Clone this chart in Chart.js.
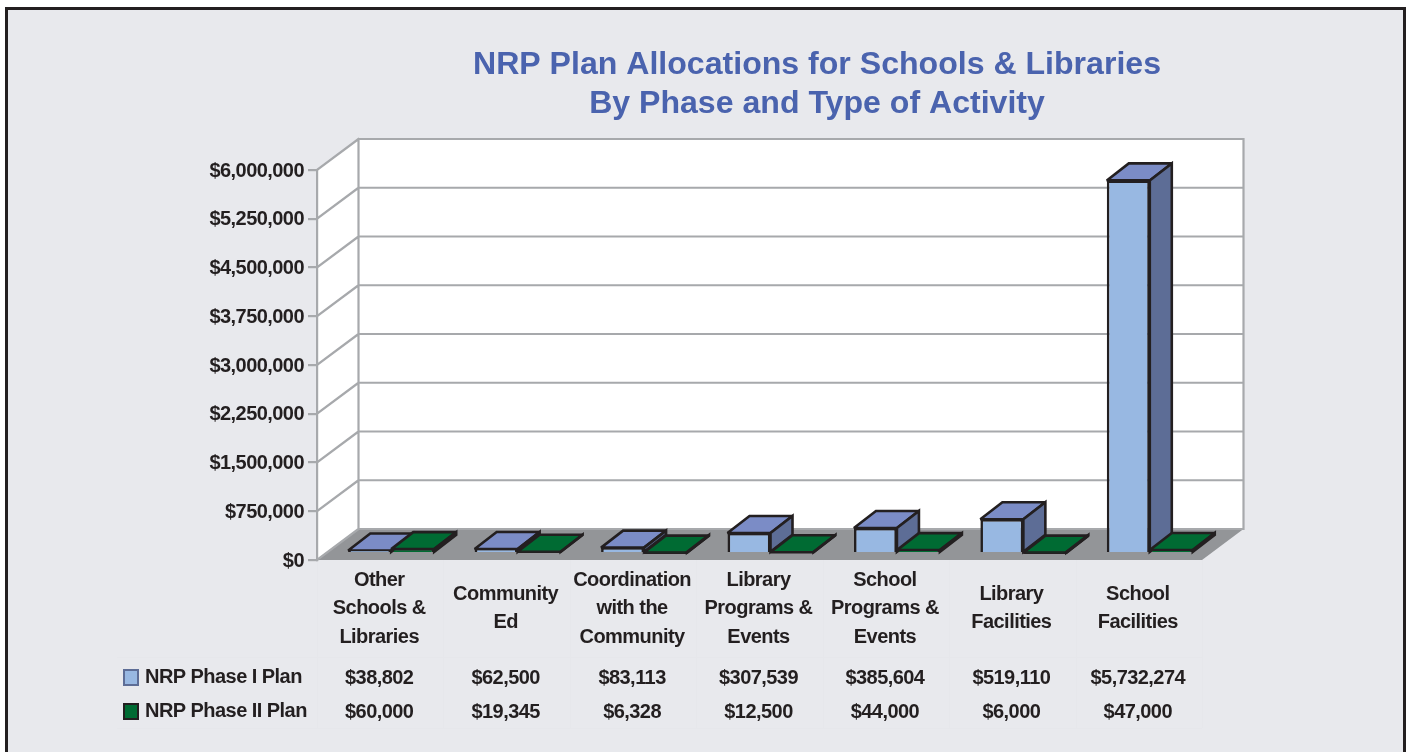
<!DOCTYPE html>
<html><head><meta charset="utf-8">
<style>html,body{margin:0;padding:0;background:#fff;overflow:hidden}canvas{display:block}</style>
<script src="https://cdn.jsdelivr.net/npm/chart.js@4/dist/chart.umd.js"></script>
</head><body><canvas id="c" width="1411" height="752"></canvas>
<script>
const categories = [["Other","Schools &","Libraries"],["Community","Ed"],["Coordination","with the","Community"],["Library","Programs &","Events"],["School","Programs &","Events"],["Library","Facilities"],["School","Facilities"]];
const phaseOne = [38802,62500,83113,307539,385604,519110,5732274];
const phaseTwo = [60000,19345,6328,12500,44000,6000,47000];
const seriesNames = ["NRP Phase I Plan","NRP Phase II Plan"];
const titleLines = ["NRP Plan Allocations for Schools & Libraries","By Phase and Type of Activity"];
const axisMax = 6000000, axisStep = 750000;

const FONT = '"Liberation Sans",Arial,sans-serif';
const TEXT_SPACING = '-0.55px';
const INK = '#231f20', GRID = '#a7a9ac', PANEL = '#e8e9ed';
const WALL = {dx:41.5, dy:-31}, BAR = {dx:22, dy:-17}, PLANE = {dx:11, dy:-7};
const EDGE = 2.6;
const FACES = [
  {front:'#98b8e2', top:'#7b8cc6', side:'#5d6d96', edge:INK},
  {front:'#006b33', top:'#006b33', side:'#231f20', edge:INK}
];
const money = v => '$' + Number(v).toLocaleString('en-US');
function poly(ctx, pts, fill, stroke, lw){
  ctx.beginPath(); pts.forEach((p,i)=> i?ctx.lineTo(p[0],p[1]):ctx.moveTo(p[0],p[1])); ctx.closePath();
  if(fill){ctx.fillStyle=fill;ctx.fill();}
  if(stroke){ctx.strokeStyle=stroke;ctx.lineWidth=lw;ctx.lineJoin='miter';ctx.miterLimit=3;ctx.stroke();}
}
function swatch(fill, edge){
  const s=document.createElement('canvas'); s.width=16; s.height=17;
  const g=s.getContext('2d'); g.fillStyle=fill; g.fillRect(0,0,16,17);
  g.strokeStyle=edge; g.lineWidth=2; g.strokeRect(1,1,14,15); return s;
}
const scenePlugin = {
  id:'scene',
  beforeDraw(chart){
    const {ctx,chartArea:a,scales:{x,y}} = chart;
    ctx.letterSpacing = TEXT_SPACING;
    ctx.save();
    ctx.fillStyle='#fff'; ctx.fillRect(0,0,1411,752);
    ctx.fillStyle=PANEL; ctx.fillRect(6,8,1399,744);
    ctx.strokeStyle=INK; ctx.lineWidth=3;
    ctx.beginPath(); ctx.moveTo(6.5,752); ctx.lineTo(6.5,8.5); ctx.lineTo(1404.5,8.5); ctx.lineTo(1404.5,752); ctx.stroke();
    ctx.strokeStyle='#e6e7eb'; ctx.lineWidth=1;
    ctx.beginPath();
    const band=(a.right-a.left)/categories.length;
    for(let i=0;i<=categories.length;i++){const px=Math.round(a.left+band*i)+.5; ctx.moveTo(px,a.bottom); ctx.lineTo(px,728);}
    ctx.moveTo(117,657.5); ctx.lineTo(a.right,657.5);
    ctx.moveTo(117,728.5); ctx.lineTo(a.right,728.5);
    ctx.stroke();
    const bx=a.left+WALL.dx, tx=a.right+WALL.dx;
    const top=y.getPixelForValue(axisMax), bot=y.getPixelForValue(0);
    poly(ctx,[[bx,top+WALL.dy],[tx,top+WALL.dy],[tx,bot+WALL.dy],[bx,bot+WALL.dy]],'#fff');
    poly(ctx,[[a.left,top],[bx,top+WALL.dy],[bx,bot+WALL.dy],[a.left,bot]],'#fff');
    poly(ctx,[[a.left,bot],[a.right,bot],[tx,bot+WALL.dy],[bx,bot+WALL.dy]],'#939598');
    ctx.strokeStyle=GRID; ctx.lineWidth=2.2; ctx.lineCap='square';
    ctx.beginPath();
    for(let v=0;v<=axisMax;v+=axisStep){
      const p=y.getPixelForValue(v);
      ctx.moveTo(a.left,p); ctx.lineTo(bx,p+WALL.dy);
      ctx.moveTo(bx,p+WALL.dy); ctx.lineTo(tx,p+WALL.dy);
    }
    ctx.moveTo(bx,top+WALL.dy); ctx.lineTo(bx,bot+WALL.dy);
    ctx.moveTo(tx,top+WALL.dy); ctx.lineTo(tx,bot+WALL.dy);
    ctx.stroke();
    ctx.restore();
  },
  beforeDatasetsDraw(chart){
    const ctx=chart.ctx;
    ctx.save();
    ctx.translate(PLANE.dx,PLANE.dy);
    chart.data.datasets.forEach((ds,d)=>{
      const meta=chart.getDatasetMeta(d), f=FACES[d];
      meta.data.forEach(el=>{
        const l=el.x-el.width/2, r=el.x+el.width/2, t=el.y, b=el.base;
        poly(ctx,[[l,t],[l+BAR.dx,t+BAR.dy],[r+BAR.dx,t+BAR.dy],[r,t]],f.top,f.edge,EDGE);
        poly(ctx,[[r,t],[r+BAR.dx,t+BAR.dy],[r+BAR.dx,b+BAR.dy],[r,b]],f.side,f.edge,EDGE);
      });
      meta.controller.draw();
    });
    ctx.restore();
    return false;
  },
  afterLayout(chart){
    const t=chart.titleBlock; t.left=417; t.right=1217;
    if(!t._plainSpacing){
      const original=t.draw;
      t.draw=function(...args){
        const c=chart.ctx, saved=c.letterSpacing;
        c.letterSpacing='0px'; original.apply(t,args); c.letterSpacing=saved;
      };
      t._plainSpacing=true;
    }
    const l=chart.legend; const pad=l.options.labels.padding;
    l.left=127-pad; l.top=667.5-pad; l.right=400; l.bottom=740; l.width=l.right-l.left; l.height=l.bottom-l.top;
  },
  afterDraw(chart){
    const {ctx,scales:{x}}=chart;
    ctx.save();
    ctx.font='bold 20px '+FONT; ctx.fillStyle=INK; ctx.textAlign='center'; ctx.textBaseline='middle';
    phaseOne.forEach((v,i)=>ctx.fillText(money(v),x.getPixelForValue(i)-1,678));
    phaseTwo.forEach((v,i)=>ctx.fillText(money(v),x.getPixelForValue(i)-1,712));
    ctx.restore();
  }
};
new Chart(document.getElementById('c'),{
  type:'bar',
  data:{labels:categories,datasets:[
    {label:seriesNames[0],data:phaseOne,backgroundColor:FACES[0].front,borderColor:FACES[0].edge,borderWidth:EDGE,categoryPercentage:0.68,barPercentage:1},
    {label:seriesNames[1],data:phaseTwo,backgroundColor:FACES[1].front,borderColor:FACES[1].edge,borderWidth:EDGE,categoryPercentage:0.68,barPercentage:1}
  ]},
  options:{
    responsive:false,animation:false,devicePixelRatio:1,events:[],
    layout:{padding:{left:0,right:209,top:0,bottom:0}},
    plugins:{
      title:{display:true,text:titleLines,color:'#4a63ae',font:{family:FONT,size:32.1,weight:'bold',lineHeight:1.215},padding:{top:45.5,bottom:46.5}},
      legend:{display:true,position:'chartArea',align:'start',labels:{
        color:INK,font:{family:FONT,size:20,weight:'bold'},padding:14,boxWidth:8,boxHeight:17,usePointStyle:true,pointStyleWidth:8,
        generateLabels(chart){
          return Chart.defaults.plugins.legend.labels.generateLabels(chart).map(it=>{
            it.pointStyle = it.datasetIndex===0 ? swatch(FACES[0].front,'#5d6d96') : swatch(FACES[1].front,INK);
            return it;
          });
        }
      }},
      tooltip:{enabled:false}
    },
    scales:{
      x:{grid:{display:false},border:{display:false},
        ticks:{color:INK,font:{family:FONT,size:20,weight:'bold',lineHeight:1.425},padding:12,labelOffset:-1,maxRotation:0,minRotation:0,autoSkip:false,crossAlign:'center'},
        afterFit(s){s.height=192;}},
      y:{min:0,max:axisMax,
        grid:{drawOnChartArea:false,drawTicks:true,tickLength:9,color:GRID,lineWidth:2.2},
        border:{color:GRID,width:2.2},
        ticks:{stepSize:axisStep,color:INK,font:{family:FONT,size:20,weight:'bold'},padding:4,labelOffset:1,callback:money},
        afterFit(s){s.width=317;}}
    }
  },
  plugins:[scenePlugin]
});
</script></body></html>
